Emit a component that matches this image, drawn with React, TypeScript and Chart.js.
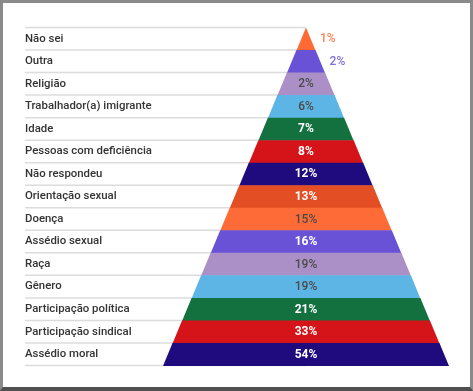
import React, { useEffect, useRef } from "react";
import { Chart, registerables } from "chart.js";

Chart.register(...registerables);

const categories = [
  "Não sei",
  "Outra",
  "Religião",
  "Trabalhador(a) imigrante",
  "Idade",
  "Pessoas com deficiência",
  "Não respondeu",
  "Orientação sexual",
  "Doença",
  "Assédio sexual",
  "Raça",
  "Gênero",
  "Participação política",
  "Participação sindical",
  "Assédio moral",
];

const percents = [1, 2, 2, 6, 7, 8, 12, 13, 15, 16, 19, 19, 21, 33, 54];

const bandColors = [
  "#FF6A35",
  "#6A52D6",
  "#AA90C6",
  "#5CB5E4",
  "#137140",
  "#D51419",
  "#1F0B7D",
  "#E34E25",
  "#FF6B36",
  "#6A52D6",
  "#AA90C6",
  "#5CB5E4",
  "#137140",
  "#D51419",
  "#1F0B7D",
];

const N = categories.length;

function lum(hex: string) {
  const r = parseInt(hex.slice(1, 3), 16);
  const g = parseInt(hex.slice(3, 5), 16);
  const b = parseInt(hex.slice(5, 7), 16);
  return (0.299 * r + 0.587 * g + 0.114 * b) / 255;
}

const pyramidPlugin = {
  id: "pyramid",
  beforeDatasetsDraw(chart: any) {
    const { ctx, chartArea, scales } = chart;
    const xs = scales.x;
    const meta = chart.getDatasetMeta(0);
    const cx = xs.getPixelForValue(0);
    ctx.save();
    ctx.strokeStyle = "#dcdcdc";
    ctx.lineWidth = 1.5;
    meta.data.forEach((el: any, i: number) => {
      const p = el.getProps(["y", "height"], true);
      const top = p.y - p.height / 2;
      const bot = p.y + p.height / 2;
      if (i === 0) {
        ctx.beginPath();
        ctx.moveTo(chartArea.left, top);
        ctx.lineTo(cx, top);
        ctx.stroke();
      }
      ctx.beginPath();
      ctx.moveTo(chartArea.left, bot);
      ctx.lineTo(cx, bot);
      ctx.stroke();
    });
    ctx.fillStyle = "#333333";
    ctx.font = "500 11.4px Roboto";
    ctx.textAlign = "left";
    ctx.textBaseline = "middle";
    meta.data.forEach((el: any, i: number) => {
      const p = el.getProps(["y"], true);
      ctx.fillText(categories[i], chartArea.left, p.y);
    });
    ctx.restore();
  },
  afterDatasetsDraw(chart: any) {
    const { ctx, scales } = chart;
    const xs = scales.x;
    const meta = chart.getDatasetMeta(0);
    const data = chart.data.datasets[0].data;
    ctx.save();
    meta.data.forEach((el: any, i: number) => {
      const p = el.getProps(["y", "height"], true);
      const top = p.y - p.height / 2;
      const bot = p.y + p.height / 2;
      const [lo, hi] = data[i];
      const topHalf = i / N;
      const tl = xs.getPixelForValue(-topHalf);
      const tr = xs.getPixelForValue(topHalf);
      const bl = xs.getPixelForValue(lo);
      const br = xs.getPixelForValue(hi);
      ctx.fillStyle = bandColors[i];
      ctx.beginPath();
      ctx.moveTo(tl, top);
      ctx.lineTo(tr, top);
      ctx.lineTo(br, bot + 0.5);
      ctx.lineTo(bl, bot + 0.5);
      ctx.closePath();
      ctx.fill();
    });
    ctx.textBaseline = "middle";
    meta.data.forEach((el: any, i: number) => {
      const p = el.getProps(["y", "height"], true);
      const label = percents[i] + "%";
      const [lo, hi] = data[i];
      const topW = xs.getPixelForValue(i / N) - xs.getPixelForValue(-i / N);
      const dark = lum(bandColors[i]) < 0.5;
      ctx.font = (dark ? "bold " : "500 ") + "12px Roboto";
      const tw = ctx.measureText(label).width;
      if (topW < tw + 8) {
        ctx.font = "500 12px Roboto";
        ctx.fillStyle = bandColors[i];
        ctx.globalAlpha = 0.85;
        ctx.textAlign = "left";
        ctx.fillText(label, xs.getPixelForValue(hi) + 4.5, p.y + 0.5);
        ctx.globalAlpha = 1;
      } else {
        ctx.fillStyle = dark ? "#ffffff" : "#4a4a4a";
        ctx.textAlign = "center";
        ctx.fillText(label, xs.getPixelForValue((lo + hi) / 2), p.y + 0.5);
      }
    });
    ctx.restore();
  },
};

export default function App() {
  const ref = useRef<HTMLCanvasElement | null>(null);
  useEffect(() => {
    if (!ref.current) return;
    const chart = new Chart(ref.current, {
      type: "bar",
      data: {
        labels: categories,
        datasets: [
          {
            data: categories.map((_, i) => [-(i + 1) / N, (i + 1) / N]) as any,
            backgroundColor: "rgba(0,0,0,0)",
            borderWidth: 0,
            barPercentage: 1,
            categoryPercentage: 1,
          },
        ],
      },
      options: {
        indexAxis: "y",
        animation: false,
        responsive: false,
        events: [],
        layout: { padding: { left: 25, right: 24, top: 27.5, bottom: 25.5 } },
        plugins: { legend: { display: false }, tooltip: { enabled: false } },
        scales: {
          x: { display: false, min: -1.965, max: 1 },
          y: { display: false, offset: true },
        },
      },
      plugins: [pyramidPlugin],
    });
    return () => chart.destroy();
  }, []);
  return (
    <div style={{ position: "fixed", left: 0, top: 0, width: 473, height: 391, background: "#fff" }}>
      <canvas ref={ref} width={473} height={391} style={{ position: "absolute", left: 0, top: 0 }} />
      <div
        style={{
          position: "absolute",
          left: 0,
          top: 0,
          width: 473,
          height: 391,
          boxSizing: "border-box",
          borderLeft: "3px solid #8a8a8a",
          borderTop: "3px solid #8a8a8a",
          borderRight: "3px solid #8a8a8a",
          borderBottom: "4px solid #505050",
          pointerEvents: "none",
        }}
      />
    </div>
  );
}
